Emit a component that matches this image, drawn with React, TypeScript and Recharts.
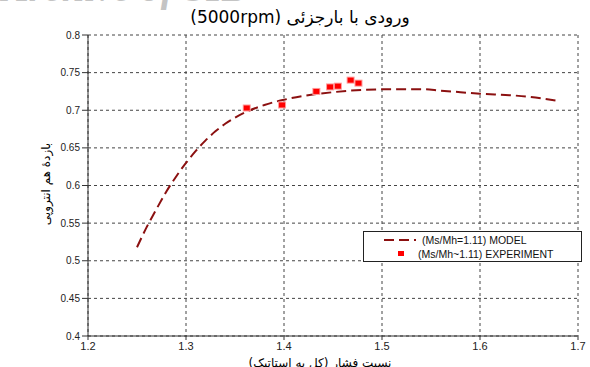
import React from 'react';
import { ComposedChart, Line, Scatter, XAxis, YAxis, CartesianGrid } from 'recharts';

const modelX = [1.25, 1.26, 1.27, 1.28, 1.29, 1.3, 1.31, 1.32, 1.33, 1.34, 1.36, 1.38, 1.4, 1.42, 1.45, 1.48, 1.51, 1.54, 1.56, 1.58, 1.6, 1.63, 1.65, 1.677];
const modelY = [0.518, 0.545, 0.569, 0.592, 0.612, 0.63, 0.646, 0.66, 0.672, 0.682, 0.697, 0.707, 0.714, 0.719, 0.724, 0.727, 0.728, 0.728, 0.726, 0.724, 0.722, 0.72, 0.718, 0.713];
const expX = [1.362, 1.398, 1.433, 1.447, 1.455, 1.468, 1.476];
const expY = [0.703, 0.707, 0.725, 0.731, 0.732, 0.74, 0.736];
const xTicks = [1.2, 1.3, 1.4, 1.5, 1.6, 1.7];
const yTicks = [0.4, 0.45, 0.5, 0.55, 0.6, 0.65, 0.7, 0.75, 0.8];

const modelData = modelX.map((x, i) => ({ x, y: modelY[i] }));
const expData = expX.map((x, i) => ({ x, y: expY[i] }));

const MODEL_COLOR = '#8b1010';
const EXP_COLOR = '#ff0000';

const SquareDot = (props: any) => {
  const { cx, cy } = props;
  if (cx == null || cy == null) return null;
  return (
    <g>
      <rect x={cx - 4} y={cy - 3.5} width={8} height={7} fill="#ff9a9a" />
      <rect x={cx - 3} y={cy - 2.5} width={6} height={5} fill={EXP_COLOR} />
    </g>
  );
};

const LegendBox = () => (
  <div
    style={{
      position: 'absolute',
      left: 363,
      top: 231,
      width: 219,
      height: 31,
      border: '1px solid #222',
      background: '#fff',
      boxSizing: 'border-box',
      fontFamily: 'Liberation Sans, Arial, sans-serif',
      fontSize: 10.5,
      color: '#111',
    }}
  >
    <svg width={40} height={30} style={{ position: 'absolute', left: 20, top: 0 }}>
      <line x1={0} y1={8} x2={32} y2={8} stroke={MODEL_COLOR} strokeWidth={2} strokeDasharray="10 5" />
      <rect x={14} y={19} width={6} height={5} fill={EXP_COLOR} />
    </svg>
    <div style={{ position: 'absolute', left: 58, top: 2, whiteSpace: 'nowrap' }}>(Ms/Mh=1.11) MODEL</div>
    <div style={{ position: 'absolute', left: 54, top: 16, whiteSpace: 'nowrap' }}>(Ms/Mh~1.11) EXPERIMENT</div>
  </div>
);

export default function App() {
  return (
    <div style={{ position: 'absolute', left: 0, top: 0, width: 590, height: 367, overflow: 'hidden', background: '#fff' }}>
      <div
        style={{
          position: 'absolute',
          left: 2,
          top: -36,
          fontFamily: 'Liberation Serif, serif',
          fontStyle: 'italic',
          fontWeight: 'bold',
          fontSize: 40,
          color: '#c4c4c4',
          whiteSpace: 'nowrap',
        }}
      >
        Archive of SID
      </div>
      <div
        style={{
          position: 'absolute',
          left: 0,
          width: 600,
          top: 7,
          textAlign: 'center',
          fontFamily: 'DejaVu Sans, sans-serif',
          fontSize: 17,
          color: '#000',
          direction: 'rtl',
        }}
      >
        ورودی با بارجزئی (5000rpm)
      </div>
      <ComposedChart
        width={590}
        height={367}
        margin={{ top: 35, right: 12, bottom: 1, left: 28 }}
      >
        <CartesianGrid stroke="#444" strokeDasharray="3 3" />
        <XAxis
          dataKey="x"
          type="number"
          domain={[1.2, 1.7]}
          ticks={xTicks}
          height={30}
          stroke="#333"
          tickLine={{ stroke: '#333' }}
          tickSize={4}
          tick={{ fontSize: 11, fill: '#222', fontFamily: 'Liberation Sans, Arial, sans-serif' }}
          tickFormatter={(v: number) => String(Number(v.toFixed(2)))}
          allowDataOverflow
        />
        <YAxis
          dataKey="y"
          type="number"
          domain={[0.4, 0.8]}
          ticks={yTicks}
          width={60}
          stroke="#333"
          tickLine={{ stroke: '#333' }}
          tickSize={6}
          tick={{ fontSize: 10, fill: '#222', fontFamily: 'Liberation Sans, Arial, sans-serif' }}
          tickFormatter={(v: number) => String(Number(v.toFixed(2)))}
          allowDataOverflow
        />
        <Line
          data={modelData}
          dataKey="y"
          type="monotone"
          stroke={MODEL_COLOR}
          strokeWidth={2}
          strokeDasharray="10 5"
          dot={false}
          activeDot={false}
          isAnimationActive={false}
          name="(Ms/Mh=1.11) MODEL"
        />
        <Scatter
          data={expData}
          dataKey="y"
          fill={EXP_COLOR}
          shape={<SquareDot />}
          isAnimationActive={false}
          name="(Ms/Mh~1.11) EXPERIMENT"
        />
      </ComposedChart>
      <LegendBox />
      <div
        style={{
          position: 'absolute',
          left: 46,
          top: 184,
          transform: 'translate(-50%, -50%) rotate(-90deg)',
          fontFamily: 'DejaVu Sans, sans-serif',
          fontSize: 12,
          color: '#000',
          whiteSpace: 'nowrap',
          direction: 'rtl',
        }}
      >
        بازدهٔ هم انتروپی
      </div>
      <div
        style={{
          position: 'absolute',
          left: 0,
          width: 640,
          top: 356,
          textAlign: 'center',
          fontFamily: 'DejaVu Sans, sans-serif',
          fontSize: 12,
          color: '#000',
          direction: 'rtl',
          whiteSpace: 'nowrap',
        }}
      >
        نسبت فشار (کل به استاتیک)
      </div>
    </div>
  );
}
